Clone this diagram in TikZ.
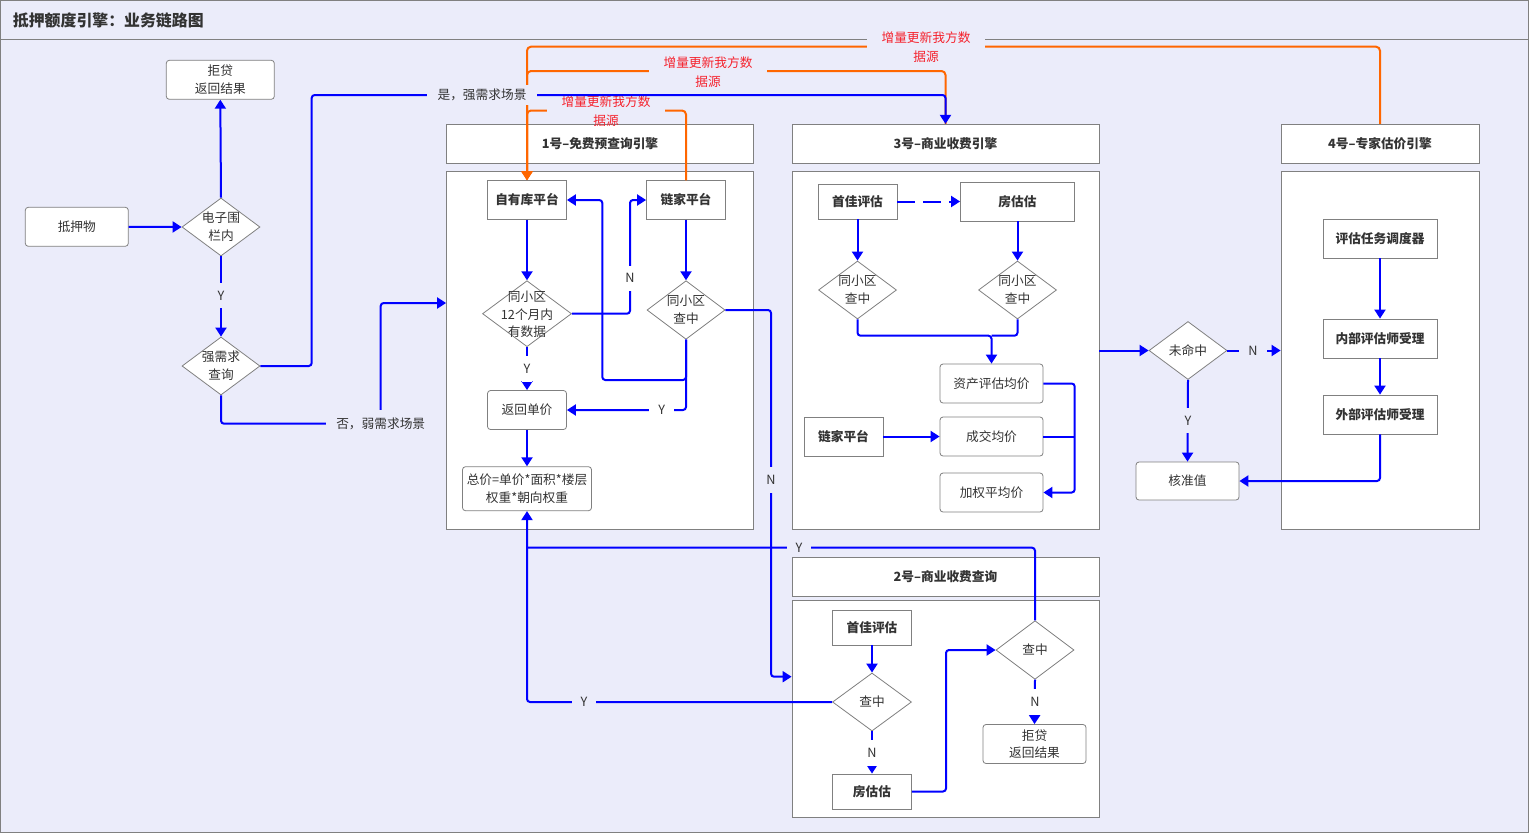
\documentclass[tikz,border=0pt]{standalone}
\usepackage{fontspec}
\setmainfont{Noto Sans CJK SC}
\usetikzlibrary{arrows.meta,shapes.geometric}
\definecolor{bgc}{RGB}{235,236,250}
\definecolor{bdc}{RGB}{128,128,128}
\definecolor{txc}{RGB}{51,51,51}
\definecolor{blu}{RGB}{0,0,255}
\definecolor{org}{RGB}{255,102,0}
\definecolor{redt}{RGB}{245,34,45}
\tikzset{
  base/.style={font=\fontsize{12.7}{17.7}\selectfont, text=txc, align=center, inner sep=0pt},
  rbox/.style={base, draw=bdc, fill=white, rounded corners=3pt, line width=0.8pt},
  sbox/.style={base, draw=bdc, fill=white, line width=0.8pt, font=\fontsize{12.7}{17.7}\selectfont\bfseries},
  cont/.style={draw=bdc, fill=white, line width=0.8pt, inner sep=0pt},
  dia/.style={diamond, draw=bdc, fill=white, line width=0.8pt, inner sep=0pt},
  dtx/.style={base},
  tip/.style={-{Triangle[width=11pt,length=9pt]}},
  con/.style={draw=blu, line width=2pt, rounded corners=3pt, tip},
  conn/.style={draw=blu, line width=2pt, rounded corners=3pt},
  ocon/.style={draw=org, line width=2pt, rounded corners=4pt, tip},
  lblh/.style={base, fill=bgc, inner xsep=9pt, inner ysep=2pt},
  lblv/.style={base, fill=bgc, inner xsep=2pt, inner ysep=8pt},
  lblhw/.style={lblh, fill=white},
  lblvw/.style={lblv, fill=white},
  rlbl/.style={base, text=redt, fill=bgc, inner xsep=15pt, inner ysep=4pt},
  rtxt/.style={base, text=redt},
}
\begin{document}
\begin{tikzpicture}[x=1pt,y=-1pt]
\useasboundingbox (0,0) rectangle (1529,833);
\fill[bgc] (0,0) rectangle (1529,833);
\draw[bdc, line width=1pt] (0.5,0.5) rectangle (1528.5,832.5);
\draw[bdc, line width=1pt] (0,39.5) -- (1529,39.5);
\node[anchor=west, font=\fontsize{15.9}{18}\selectfont\bfseries, text=txc, inner sep=0pt] (title) at (12.7,20.5) {抵押额度引擎：业务链路图};

% containers
\node[sbox, minimum width=307pt, minimum height=39pt] (h1) at (600,143.8) {1号–免费预查询引擎};
\node[cont, minimum width=307pt, minimum height=358pt] (b1) at (600,350.5) {};
\node[sbox, minimum width=307pt, minimum height=39pt] (h3) at (945.5,143.8) {3号–商业收费引擎};
\node[cont, minimum width=307pt, minimum height=358pt] (b3) at (945.5,350.5) {};
\node[sbox, minimum width=198pt, minimum height=39pt] (h4) at (1380,143.8) {4号–专家估价引擎};
\node[cont, minimum width=198pt, minimum height=358pt] (b4) at (1380,350.5) {};
\node[sbox, minimum width=307pt, minimum height=39pt] (h2) at (945.5,577) {2号–商业收费查询};
\node[cont, minimum width=307pt, minimum height=217pt] (b2) at (945.5,708.5) {};

% left part
\node[rbox, minimum width=103pt, minimum height=39pt] (dyw) at (76.8,226.8) {抵押物};
\node[dia, minimum width=78pt, minimum height=58pt] (dzw) at (221,227) {};
\node[dtx] (dzwt) at (dzw) {电子围\\栏内};
\node[rbox, minimum width=108pt, minimum height=39pt] (jd1) at (220.3,79.8) {拒贷\\返回结果};
\node[dia, minimum width=78pt, minimum height=58pt] (qxq) at (221,366) {};
\node[dtx] (qxqt) at (qxq) {强需求\\查询};

% 1号
\node[sbox, minimum width=79pt, minimum height=38.6pt] (zy) at (527,200) {自有库平台};
\node[sbox, minimum width=79pt, minimum height=38.6pt] (lj) at (686,200) {链家平台};
\node[dia, minimum width=89pt, minimum height=66pt] (d12) at (527,313.7) {};
\node[dtx] (d12t) at (527,314.5) {同小区\\12个月内\\有数据};
\node[dia, minimum width=78pt, minimum height=58.6pt] (dq) at (686,310) {};
\node[dtx] (dqt) at (dq) {同小区\\查中};
\node[rbox, minimum width=79pt, minimum height=39pt] (fh) at (527,410) {返回单价};
\node[rbox, minimum width=129pt, minimum height=44pt] (zj) at (527,488.7) {总价=单价*面积*楼层\\权重*朝向权重};

% 3号
\node[sbox, minimum width=79pt, minimum height=35pt] (sj3) at (857.5,201.5) {首佳评估};
\node[sbox, minimum width=114pt, minimum height=39pt] (fg3) at (1017.5,201.5) {房估估};
\node[dia, minimum width=78pt, minimum height=58pt] (d3l) at (857.5,290) {};
\node[dtx] (d3lt) at (d3l) {同小区\\查中};
\node[dia, minimum width=78pt, minimum height=58pt] (d3r) at (1017.5,290) {};
\node[dtx] (d3rt) at (d3r) {同小区\\查中};
\node[rbox, minimum width=103pt, minimum height=39pt] (zp) at (991.5,383.5) {资产评估均价};
\node[rbox, minimum width=103pt, minimum height=39pt] (cj) at (991.5,436.5) {成交均价};
\node[rbox, minimum width=103pt, minimum height=39pt] (jq) at (991.5,492.5) {加权平均价};
\node[sbox, minimum width=79pt, minimum height=39pt] (lj3) at (843.5,436.5) {链家平台};

% middle / 4号
\node[dia, minimum width=78pt, minimum height=58pt] (wm) at (1188,350.5) {};
\node[dtx] (wmt) at (wm) {未命中};
\node[rbox, minimum width=103pt, minimum height=38pt] (hz) at (1187.5,481) {核准值};
\node[sbox, minimum width=114pt, minimum height=39pt] (dd) at (1380,238.5) {评估任务调度器};
\node[sbox, minimum width=114pt, minimum height=39pt] (nb) at (1380,338.5) {内部评估师受理};
\node[sbox, minimum width=114pt, minimum height=39pt] (wb) at (1380,414.5) {外部评估师受理};

% 2号
\node[sbox, minimum width=79pt, minimum height=35pt] (sj2) at (872,627.5) {首佳评估};
\node[dia, minimum width=79pt, minimum height=58pt] (c1) at (872,702) {};
\node[dtx] (c1t) at (c1) {查中};
\node[sbox, minimum width=79pt, minimum height=35pt] (fg2) at (872,791.5) {房估估};
\node[dia, minimum width=78pt, minimum height=58.6pt] (c2) at (1035,650) {};
\node[dtx] (c2t) at (c2) {查中};
\node[rbox, minimum width=103pt, minimum height=39pt] (jd2) at (1034.5,744) {拒贷\\返回结果};

% orange connectors
\draw[ocon] (h4.north) |- (zy.north |- 0,46.7) -- (zy.north);
\draw[ocon] (h3.north) |- (zy.north |- 0,71) -- (zy.north);
\draw[ocon] (lj.north) |- (zy.north |- 0,110.5) -- (zy.north);
\node[rlbl] (r4a) at (926,38) {增量更新我方数};
\node[rtxt] (r4b) at (926,56.5) {据源};
\node[rlbl] (r3a) at (708,63) {增量更新我方数};
\node[rtxt] (r3b) at (708,81.5) {据源};
\node[rlbl] (r1a) at (606,102) {增量更新我方数};
\node[rtxt] (r1b) at (606,120.5) {据源};

% blue connectors, left
\draw[con] (dyw.east) -- (dzw.west);
\draw[con] (dzw.north) -- (jd1.south);
\draw[con] (dzw.south) -- (qxq.north);
\draw[con] (qxq.east) -- (311.7,366) |- (h3.north |- 0,95) -- (h3.north);
\draw[con] (qxq.south) |- (380.7,423.7) -- (380.7,303) -- (b1.west |- 0,303);

% 1号
\draw[con] (zy.south) -- (d12.north);
\draw[con] (d12.south) -- (fh.north);
\draw[con] (d12.east) -- (630,313.7) |- (lj.west);
\draw[con] (lj.south) -- (dq.north);
\draw[con] (dq.south) |- (602.3,380) |- (zy.east);
\draw[con] (dq.south) |- (fh.east);
\draw[con] (dq.east) -| (771,676.7) -- (b2.west |- 0,676.7);
\draw[con] (fh.south) -- (zj.north);
\draw[con] (c1.west) -| (zj.south);
\draw[conn] (c2.north) |- (zj.south |- 0,547.7);

% 3号
\draw[con, dash pattern=on 18pt off 8pt] (sj3.east) -- (fg3.west);
\draw[con] (sj3.south) -- (d3l.north);
\draw[con] (fg3.south) -- (d3r.north);
\draw[con] (d3l.south) |- (zp.north |- 0,335.7) -- (zp.north);
\draw[conn] (d3r.south) |- (zp.north |- 0,335.7);
\draw[con] (lj3.east) -- (cj.west);
\draw[con] (zp.east) -- (1074.7,383.5) |- (jq.east);
\draw[conn] (cj.east) -- (1074.7,436.5);

% middle / 4号
\draw[con] (b3.east |- wm.west) -- (wm.west);
\draw[con] (wm.east) -- (b4.west |- wm.east);
\draw[con] (wm.south) -- (hz.north);
\draw[con] (dd.south) -- (nb.north);
\draw[con] (nb.south) -- (wb.north);
\draw[con] (wb.south) |- (hz.east);

% 2号
\draw[con] (sj2.south) -- (c1.north);
\draw[con] (c1.south) -- (fg2.north);
\draw[con] (fg2.east) -- (946,791.5) |- (c2.west);
\draw[con] (c2.south) -- (jd2.north);

% labels
\node[lblv] (ly1) at (221,295.7) {Y};
\node[base, fill=bgc, inner xsep=11pt, inner ysep=4pt] (lshi) at (482,94.7) {是，强需求场景};
\node[base, fill=bgc, inner xsep=10pt, inner ysep=8pt] (lfou) at (380.7,423.7) {否，弱需求场景};
\node[lblvw] (ly2) at (527,369) {Y};
\node[lblvw] (ln1) at (630,278.3) {N};
\node[lblhw] (ly3) at (661.7,410) {Y};
\node[lblv] (ln2) at (771,480) {N};
\node[lblh] (ly4) at (799,547.7) {Y};
\node[lblh] (ly5) at (584,701.7) {Y};
\node[lblh] (ln3) at (1253,350.5) {N};
\node[lblv] (ly6) at (1188,420.5) {Y};
\node[lblvw] (ln4) at (872,753) {N};
\node[lblvw] (ln5) at (1035,702) {N};
\end{tikzpicture}
\end{document}
